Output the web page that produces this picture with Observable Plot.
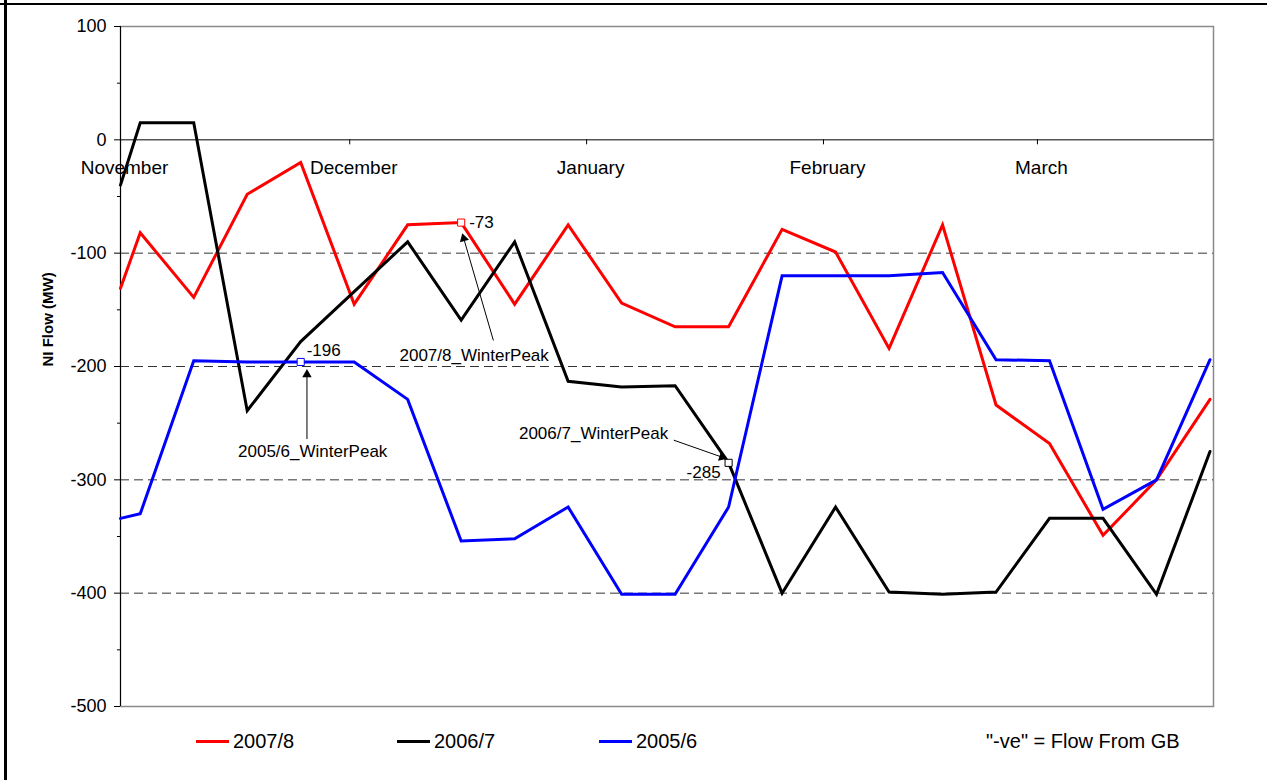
<!DOCTYPE html>
<html>
<head>
<meta charset="utf-8">
<script src="https://cdn.jsdelivr.net/npm/d3@7"></script>
<script src="https://cdn.jsdelivr.net/npm/@observablehq/plot@0.6"></script>
<style>
  body { margin: 0; background: #fff; font-family: "Liberation Sans", Arial, sans-serif; }
  #wrap { position: relative; width: 1267px; height: 780px; overflow: hidden; background: #fff; }
  #chart { position: absolute; left: 0; top: 0; }
  .bl { position: absolute; left: 4px; top: 0; width: 3px; height: 780px; background: #000; }
  .bt { position: absolute; left: 0; top: 3px; width: 1267px; height: 2px; background: #000; }
  #legend { position: absolute; left: 0; top: 720px; width: 1267px; height: 60px; }
  .item { position: absolute; top: 9px; height: 24px; display: flex; align-items: center; font-size: 20px; color: #000; white-space: nowrap; }
  .sw { width: 33px; height: 3px; margin-right: 4px; }
</style>
</head>
<body>
<div id="wrap">
  <div id="chart"></div>
  <div class="bl"></div>
  <div class="bt"></div>
  <div id="legend"></div>
</div>
<script>
// ---------------- DATA ----------------
// Weekly peak dates (first entry is the left edge of the chart, 1 November)
const weekDates = [
  "2006-11-01T00:00Z",
  "2006-11-03T14:00Z", "2006-11-10T14:00Z", "2006-11-17T14:00Z", "2006-11-24T14:00Z",
  "2006-12-01T14:00Z", "2006-12-08T14:00Z", "2006-12-15T14:00Z", "2006-12-22T14:00Z", "2006-12-29T14:00Z",
  "2007-01-05T14:00Z", "2007-01-12T14:00Z", "2007-01-19T14:00Z", "2007-01-26T14:00Z",
  "2007-02-02T14:00Z", "2007-02-09T14:00Z", "2007-02-16T14:00Z", "2007-02-23T14:00Z",
  "2007-03-02T14:00Z", "2007-03-09T14:00Z", "2007-03-16T14:00Z", "2007-03-23T14:00Z"
];
const seriesNames = ["2007/8", "2006/7", "2005/6"];
const seriesColors = ["#ff0000", "#000000", "#0000ff"];
const flow2007_8 = [-131, -82, -139, -48, -20, -145, -75, -73, -145, -75, -144, -165, -165, -79, -99, -184, -75, -234, -268, -349, -300, -229];
const flow2006_7 = [-40, 15, 15, -239, -178, -134, -90, -159, -90, -213, -218, -217, -285, -400, -324, -399, -401, -399, -334, -334, -401, -275];
const flow2005_6 = [-334, -330, -195, -196, -196, -196, -229, -354, -352, -324, -401, -401, -324, -120, -120, -120, -117, -194, -195, -326, -300, -194];
const monthStarts = ["2006-11-01", "2006-12-01", "2007-01-01", "2007-02-01", "2007-03-01"];
const monthNames = ["November", "December", "January", "February", "March"];
const yMajorTicks = [100, 0, -100, -200, -300, -400, -500];
const yMinorTicks = [50, -50, -150, -250, -350, -450];
const gridValues = [-100, -200, -300, -400];
// Winter peak annotations: series and index of the peak week
const peakSeries = ["2007/8", "2005/6", "2006/7"];
const peakIndex = [7, 4, 12];
const peakNames = ["2007/8_WinterPeak", "2005/6_WinterPeak", "2006/7_WinterPeak"];
const yLabel = "NI Flow (MW)";
const noteText = "\"-ve\" = Flow From GB";

// ---------------- LAYOUT (annotation arrows) ----------------
const arrowLayout = [
  {tail: "2006-12-19T19:10Z", tailY: -177, head: "2006-12-15T22:05Z", headY: -87, rotate: -16},
  {tail: "2006-11-25T09:40Z", tailY: -264, head: "2006-11-25T09:40Z", headY: -207, rotate: 0},
  {tail: "2007-01-12T09:40Z", tailY: -265, head: "2007-01-18T17:30Z", headY: -280, rotate: 108}
];

// ---------------- BUILD ----------------
const valuesBySeries = {"2007/8": flow2007_8, "2006/7": flow2006_7, "2005/6": flow2005_6};
const rows = seriesNames.flatMap(s => weekDates.map((d, i) => ({date: new Date(d), value: valuesBySeries[s][i], series: s})));
const peaks = peakSeries.map((s, k) => ({
  series: s,
  date: new Date(weekDates[peakIndex[k]]),
  value: valuesBySeries[s][peakIndex[k]],
  name: peakNames[k]
}));
const arrows = arrowLayout.map(a => ({x1: new Date(a.tail), y1: a.tailY, x2: new Date(a.head), y2: a.headY, rotate: a.rotate}));
const months = monthStarts.map((d, i) => ({date: new Date(d + "T00:00Z"), name: monthNames[i]}));
const xDomain = [new Date("2006-11-01T00:00Z"), new Date("2007-03-24T01:00Z")];
const font = "'Liberation Sans', Arial, sans-serif";

function peakText(s, opts) {
  return Plot.text(peaks.filter(p => p.series === s), {x: "date", y: "value", fontSize: 17, fill: "#000", ...opts});
}

const chart = Plot.plot({
  width: 1267,
  height: 720,
  marginLeft: 120,
  marginRight: 54,
  marginTop: 26,
  marginBottom: 14,
  style: {fontFamily: font, fontSize: "18px", background: "transparent", overflow: "visible", color: "#000"},
  x: {type: "utc", domain: xDomain, axis: null},
  y: {domain: [-500, 100], axis: null, label: null},
  color: {domain: seriesNames, range: seriesColors},
  marks: [
    Plot.frame({stroke: "#8a8a8a", strokeWidth: 1.5}),
    Plot.ruleY(gridValues, {stroke: "#333", strokeWidth: 1, strokeDasharray: "9,5"}),
    Plot.ruleY([0], {stroke: "#000", strokeWidth: 1}),
    Plot.ruleX([xDomain[0]], {stroke: "#000", strokeWidth: 1}),
    Plot.ruleX(months, {x: "date", y1: 0, y2: 0, insetBottom: -5, stroke: "#000"}),
    Plot.text(months, {x: "date", y: 0, text: "name", dx: 4, dy: 28, fontSize: 19, fill: "#000"}),
    Plot.axisY({ticks: yMajorTicks, tickSize: 6, tickPadding: 8, fontSize: 18, tickFormat: d => String(d), label: null}),
    Plot.axisY({ticks: yMinorTicks, tickSize: 3, tickFormat: () => "", label: null}),
    Plot.text([yLabel], {frameAnchor: "left", dx: -72, rotate: -90, fontWeight: "bold", fontSize: 15, fill: "#000"}),
    Plot.line(rows, {x: "date", y: "value", z: "series", stroke: "series", strokeWidth: 3, strokeLinejoin: "miter", strokeMiterlimit: 4}),
    Plot.dot(peaks, {x: "date", y: "value", stroke: "series", fill: "white", symbol: "square", r: 4, strokeWidth: 1}),
    Plot.link(arrows, {x1: "x1", y1: "y1", x2: "x2", y2: "y2", stroke: "#000", strokeWidth: 1}),
    Plot.dot(arrows, {x: "x2", y: "y2", symbol: "triangle", r: 3.5, fill: "#000", stroke: "none", rotate: "rotate"}),
    peakText("2007/8", {text: d => String(d.value), dx: 8, dy: 0, textAnchor: "start"}),
    peakText("2005/6", {text: d => String(d.value), dx: 6, dy: -11, textAnchor: "start"}),
    peakText("2006/7", {text: d => String(d.value), dx: -8, dy: 10, textAnchor: "end"}),
    peakText("2007/8", {text: "name", dx: 13, dy: 133}),
    peakText("2005/6", {text: "name", dx: 12, dy: 90}),
    peakText("2006/7", {text: "name", dx: -135, dy: -29})
  ]
});
document.getElementById("chart").appendChild(chart);

// ---------------- LEGEND ----------------
const legendLeft = [196, 397, 599];
const legend = document.getElementById("legend");
seriesNames.forEach((s, i) => {
  const item = document.createElement("div");
  item.className = "item";
  item.style.left = legendLeft[i] + "px";
  const sw = document.createElement("span");
  sw.className = "sw";
  sw.style.background = seriesColors[i];
  const tx = document.createElement("span");
  tx.textContent = s;
  item.appendChild(sw);
  item.appendChild(tx);
  legend.appendChild(item);
});
const note = document.createElement("div");
note.className = "item";
note.style.left = "986px";
note.textContent = noteText;
legend.appendChild(note);
</script>
</body>
</html>
